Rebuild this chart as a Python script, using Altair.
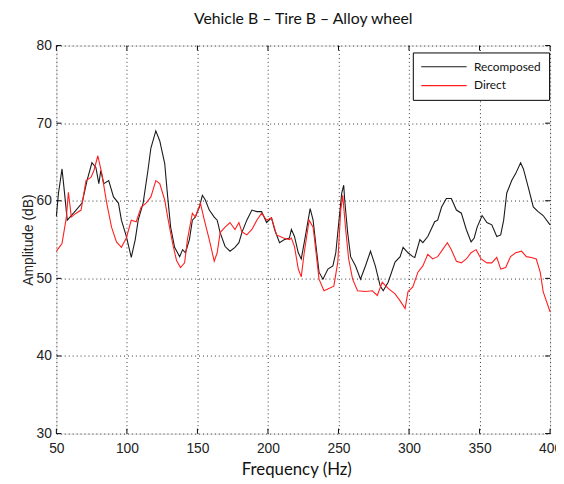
import altair as alt
import pandas as pd

# ---- data ----
rec_freq = [50, 51.5, 54, 55.5, 57.7, 62.6, 68.2, 71.7, 75.2, 78.0, 80.1, 81.5, 83.6, 87.1, 90.5,
            94.0, 96.1, 99.6, 103.1, 105.9, 108.0, 111.5, 114.9, 117.0, 120.5, 123.3, 126.8,
            128.9, 131.0, 133.8, 137.4, 139.5, 141.5, 144.3, 146.4, 148.5, 151.4, 153.5, 155.6,
            158.4, 161.9, 164.0, 166.1, 169.6, 173.1, 176.6, 179.4, 181.5, 185.0, 188.6, 192.1,
            195.5, 199.0, 202.5, 204.7, 208.2, 211.7, 215.2, 216.6, 218.8, 221.5, 223.6, 225.7,
            228.5, 229.9, 232.0, 234.1, 236.2, 239.0, 242.5, 246.0, 248.1, 250.2, 252.3, 253.7,
            254.4, 256.5, 258.6, 262.1, 265.6, 269.1, 272.7, 276.1, 279.6, 281.7, 285.2, 290.1,
            293.7, 295.8, 299.3, 302.7, 304.1, 307.7, 309.8, 313.3, 318.2, 320.3, 323.1, 326.5,
            330.0, 333.6, 337.1, 340.6, 344.0, 346.2, 348.3, 351.8, 355.2, 358.7, 362.2, 365.0,
            367.1, 369.3, 372.8, 375.6, 379.1, 381.1, 384.6, 388.1, 391.5, 395.1, 400]
rec_amp = [58, 61, 64.1, 61.5, 57.5, 58.5, 59.7, 62.6, 64.9, 64.3, 62.2, 63.9, 62.2, 62.6, 60.5,
           59.7, 57.5, 55.4, 52.7, 55, 57.5, 59.7, 63.9, 66.8, 69.0, 67.7, 64.8,
           60.5, 56.6, 54, 52.8, 53.7, 53.3, 55, 57.5, 57.9, 59.2, 60.7, 60.1,
           58.8, 57.9, 57.5, 55.9, 54.1, 53.5, 54, 54.6, 55.9, 57.5, 58.8, 58.6,
           58.6, 57.2, 57.8, 56.3, 54.6, 55, 55.2, 56.3, 55.4, 53.3, 52.5, 54.6,
           57.5, 59, 57.5, 54.1, 50.8, 49.9, 51.2, 51.6, 53.3, 57.2, 61, 62,
           60.1, 55.9, 52.8, 51.6, 49.9, 51.6, 53.5, 51.6, 49, 48.4, 49.5, 52.1,
           52.8, 54, 53.3, 52.8, 52.7, 55, 54.6, 55.4, 57.3, 57.5, 59.2, 60.3,
           60.3, 58.8, 58.4, 56.3, 54.7, 55.2, 56.6, 58.1, 57.2, 56.9, 55.4, 55.6,
           57.5, 61, 62.6, 63.5, 64.9, 64.1, 61.7, 59.2, 58.6, 58.1, 56.9]

dir_freq = [50, 52, 54, 57.1, 58.5, 60.6, 64.0, 67.5, 71.0, 74.5, 76.6, 79.4, 82.2, 85.7, 89.1,
            92.6, 96.1, 99.6, 103.1, 106.6, 110.1, 113.6, 117.0, 120.5, 123.3, 126.8, 128.9,
            132.4, 135.2, 138.0, 140.9, 142.9, 146.4, 148.5, 152.1, 154.9, 158.4, 161.9, 164.0,
            166.1, 169.6, 173.1, 176.6, 179.4, 181.5, 185.0, 188.6, 192.1, 195.5, 199.0, 202.5,
            206.1, 211.0, 215.2, 216.6, 218.8, 221.5, 223.6, 225.7, 229.2, 232.0, 234.1, 236.2,
            239.7, 243.2, 246.7, 249.5, 251.6, 253.0, 255.1, 257.2, 260.0, 263.5, 269.1, 274.0,
            277.5, 281.0, 285.2, 290.1, 293.7, 297.2, 299.3, 302.7, 306.3, 309.8, 313.3, 316.8,
            320.3, 323.8, 327.2, 330.0, 333.6, 337.1, 340.6, 344.0, 347.6, 351.1, 355.2, 358.7,
            362.2, 365.0, 368.5, 372.0, 375.6, 379.8, 383.2, 386.7, 390.2, 393.0, 395.1, 400]
dir_amp = [53.5, 54, 54.5, 57.9, 61.1, 57.9, 58.4, 58.8, 62.6, 63, 63.9, 65.8, 63.5, 59.7, 56.6,
           54.7, 54, 55.2, 57.5, 57.3, 59.2, 59.7, 60.5, 62.6, 62.2, 60.1, 57.9,
           54.5, 52.3, 51.4, 52, 55, 58.4, 57.9, 59.7, 57.5, 55, 52.2, 53.3,
           55.9, 56.6, 57.2, 56.3, 57.2, 56, 55.6, 56.3, 57.5, 58.4, 57.5, 57.8,
           55.6, 55.2, 55, 55.2, 54.1, 51.2, 50.2, 53.3, 57.5, 56.6, 53.3, 49.9,
           48.4, 48.7, 49, 52.1, 58.8, 60.7, 56.3, 52.5, 49.9, 48.4, 48.3, 48.4,
           47.8, 49.5, 48.7, 48, 47.1, 46.1, 48.3, 48.9, 50.8, 51.6, 53.1, 52.5,
           52.8, 53.7, 54.6, 53.7, 52.2, 52, 52.5, 53.3, 53.7, 52.5, 52, 52,
           52.7, 51.2, 51.4, 52.8, 53.3, 53.5, 52.8, 52.7, 52.5, 50.8, 48.3, 45.7]

series_names = ["Recomposed", "Direct"]
series_colors = ["#1a1a1a", "#ff1f1f"]
x_ticks = [50, 100, 150, 200, 250, 300, 350, 400]
y_ticks = [30, 40, 50, 60, 70, 80]

W, H = 500, 393

df = pd.concat([
    pd.DataFrame({"freq": rec_freq, "amp": rec_amp, "series": "Recomposed"}),
    pd.DataFrame({"freq": dir_freq, "amp": dir_amp, "series": "Direct"}),
])

xscale = alt.Scale(domain=[50, 400], nice=False, zero=False)
yscale = alt.Scale(domain=[30, 80], nice=False, zero=False)

xaxis = alt.Axis(values=x_ticks, title="Frequency (Hz)", grid=True, gridDash=[1, 3],
                 gridColor="#333333", gridOpacity=1, gridWidth=1, ticks=False, domain=False,
                 labelFont="Liberation Sans", labelFontSize=14, labelColor="#222222",
                 labelPadding=8, labelFlush=False,
                 titleFont="Lato", titleFontSize=17, titleFontWeight="normal",
                 titleColor="#111111", titlePadding=6, titleX=243)
yaxis = alt.Axis(values=y_ticks, title="Amplitude (dB)", grid=True, gridDash=[1, 3],
                 gridColor="#333333", gridOpacity=1, gridWidth=1, ticks=False, domain=False,
                 labelFont="Liberation Sans", labelFontSize=14, labelColor="#222222",
                 labelPadding=5, labelFlush=False,
                 titleFont="Liberation Sans", titleFontSize=14, titleFontWeight="normal",
                 titleColor="#222222", titlePadding=1)

lines = alt.Chart(df).mark_line(strokeWidth=1.1).encode(
    x=alt.X("freq:Q", scale=xscale, axis=xaxis),
    y=alt.Y("amp:Q", scale=yscale, axis=yaxis),
    color=alt.Color("series:N",
                    scale=alt.Scale(domain=series_names, range=series_colors),
                    legend=alt.Legend(title=None, orient="none", legendX=361, legendY=7,
                                      symbolType="M-4,0H4", symbolSize=132,
                                      symbolOffset=17, symbolStrokeWidth=1.2,
                                      labelFont="Lato", labelFontSize=12,
                                      labelColor="#111111", labelOffset=24,
                                      strokeColor="black", fillColor="white",
                                      padding=8, rowPadding=6, cornerRadius=0)),
)

tdf_x = pd.DataFrame({"freq": x_ticks})
tdf_y = pd.DataFrame({"amp": y_ticks})
tick_bottom = alt.Chart(tdf_x).mark_rule(color="black").encode(
    x="freq:Q", y=alt.value(H), y2=alt.value(H - 5))
tick_top = alt.Chart(tdf_x).mark_rule(color="black").encode(
    x="freq:Q", y=alt.value(0), y2=alt.value(5))
tick_left = alt.Chart(tdf_y).mark_rule(color="black").encode(
    y="amp:Q", x=alt.value(0), x2=alt.value(5))
tick_right = alt.Chart(tdf_y).mark_rule(color="black").encode(
    y="amp:Q", x=alt.value(W), x2=alt.value(W - 5))

chart = alt.layer(lines, tick_bottom, tick_top, tick_left, tick_right).properties(
    width=W, height=H,
    title=alt.Title("Vehicle B – Tire B – Alloy wheel", font="Lato", fontSize=16,
                    fontWeight="normal", color="#111111", anchor="middle", offset=12),
    autosize=alt.AutoSizeParams(type="none"),
    padding={"left": 49, "top": 35, "right": 6, "bottom": 46},
).configure_view(stroke="black", strokeWidth=1).configure(background="white")

chart.save("out.html", embed_options={"renderer": "svg", "actions": False})
